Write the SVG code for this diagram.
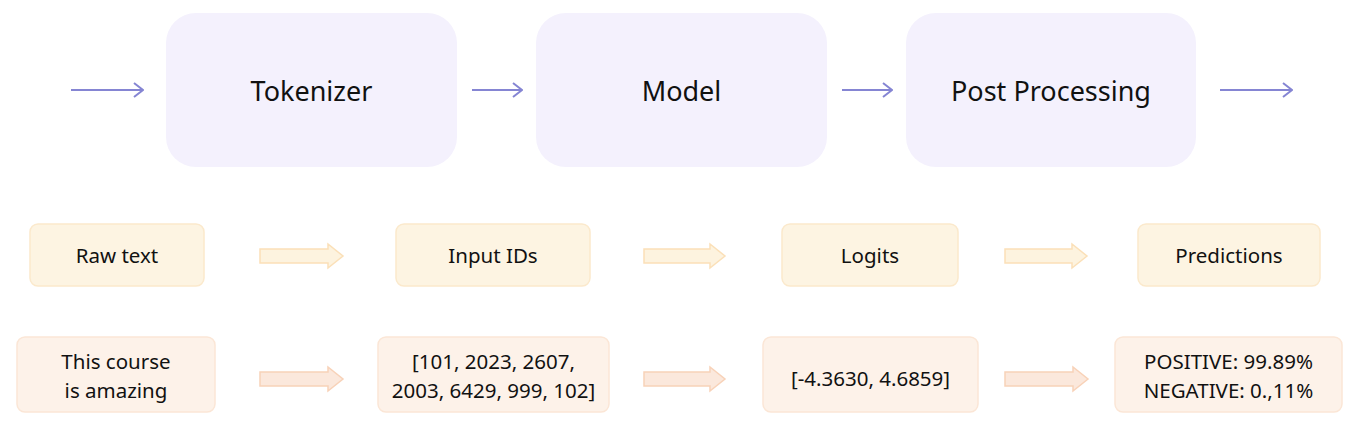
<svg xmlns="http://www.w3.org/2000/svg" width="1364" height="424" viewBox="0 0 1364 424">
<defs>
<style>
.stage{fill:#f4f1fd}
.stage-t{font-family:"Noto Sans","Open Sans",sans-serif;font-size:27px;fill:#111;text-anchor:middle}
.mid{fill:#fdf4e2;stroke:#fbe9cc;stroke-width:1.5}
.bot{fill:#fdf2e9;stroke:#fbe6d6;stroke-width:1.5}
.t{font-family:"Noto Sans","Open Sans",sans-serif;font-size:20.5px;fill:#111;text-anchor:middle}
.thin{stroke:#8585d3;stroke-width:2;fill:none}
.blk1{fill:#fdf3df;stroke:#fbe0b8;stroke-width:1.5}
.blk2{fill:#fbe8dc;stroke:#f8d2b8;stroke-width:1.5}
</style>
<marker id="ah" viewBox="0 0 12 16" refX="11" refY="8" markerWidth="12" markerHeight="16" markerUnits="userSpaceOnUse" orient="auto">
<path d="M2,1 L11,8 L2,15" fill="none" stroke="#8585d3" stroke-width="2"/>
</marker>
</defs>
<g id="tokenizer"><rect class="stage" x="166" y="13" width="291" height="154" rx="30"/><text class="stage-t" x="311.5" y="101">Tokenizer</text></g>
<g id="model"><rect class="stage" x="536" y="13" width="291" height="154" rx="30"/><text class="stage-t" x="681.5" y="101">Model</text></g>
<g id="postprocessing"><rect class="stage" x="906" y="13" width="290" height="154" rx="30"/><text class="stage-t" x="1051" y="101">Post Processing</text></g>
<g id="rawtext"><rect class="mid" x="30" y="224" width="174" height="62" rx="8"/><text class="t" x="117" y="263">Raw text</text></g>
<g id="inputids"><rect class="mid" x="396" y="224" width="194" height="62" rx="8"/><text class="t" x="493" y="263">Input IDs</text></g>
<g id="logits"><rect class="mid" x="782" y="224" width="176" height="62" rx="8"/><text class="t" x="870" y="263">Logits</text></g>
<g id="predictions"><rect class="mid" x="1138" y="224" width="182" height="62" rx="8"/><text class="t" x="1229" y="263">Predictions</text></g>
<g id="sentence"><rect class="bot" x="17" y="337" width="198" height="75" rx="8"/><text class="t" x="116" y="369">This course</text><text class="t" x="116" y="398">is amazing</text></g>
<g id="ids"><rect class="bot" x="378" y="337" width="231" height="75" rx="8"/><text class="t" x="493.5" y="369">[101, 2023, 2607,</text><text class="t" x="493.5" y="398">2003, 6429, 999, 102]</text></g>
<g id="logitvals"><rect class="bot" x="763" y="337" width="215" height="75" rx="8"/><text class="t" x="870.5" y="386">[-4.3630, 4.6859]</text></g>
<g id="probs"><rect class="bot" x="1115" y="337" width="227" height="75" rx="8"/><text class="t" x="1228.5" y="369">POSITIVE: 99.89%</text><text class="t" x="1228.5" y="398">NEGATIVE: 0.,11%</text></g>
<g id="connectors">
<line class="thin" x1="71" y1="90" x2="143" y2="90" marker-end="url(#ah)"/>
<line class="thin" x1="472" y1="90" x2="522" y2="90" marker-end="url(#ah)"/>
<line class="thin" x1="842" y1="90" x2="892" y2="90" marker-end="url(#ah)"/>
<line class="thin" x1="1220" y1="90" x2="1292" y2="90" marker-end="url(#ah)"/>
<path class="blk1" d="M260,249 H328 V244 L343,256 L328,268 V263 H260 Z"/>
<path class="blk1" d="M644,249 H710 V244 L725,256 L710,268 V263 H644 Z"/>
<path class="blk1" d="M1005,249 H1072 V244 L1087,256 L1072,268 V263 H1005 Z"/>
<path class="blk2" d="M260,372 H328 V367 L343,379 L328,391 V386 H260 Z"/>
<path class="blk2" d="M644,372 H710 V367 L725,379 L710,391 V386 H644 Z"/>
<path class="blk2" d="M1005,372 H1073 V367 L1088,379 L1073,391 V386 H1005 Z"/>
</g>
</svg>
